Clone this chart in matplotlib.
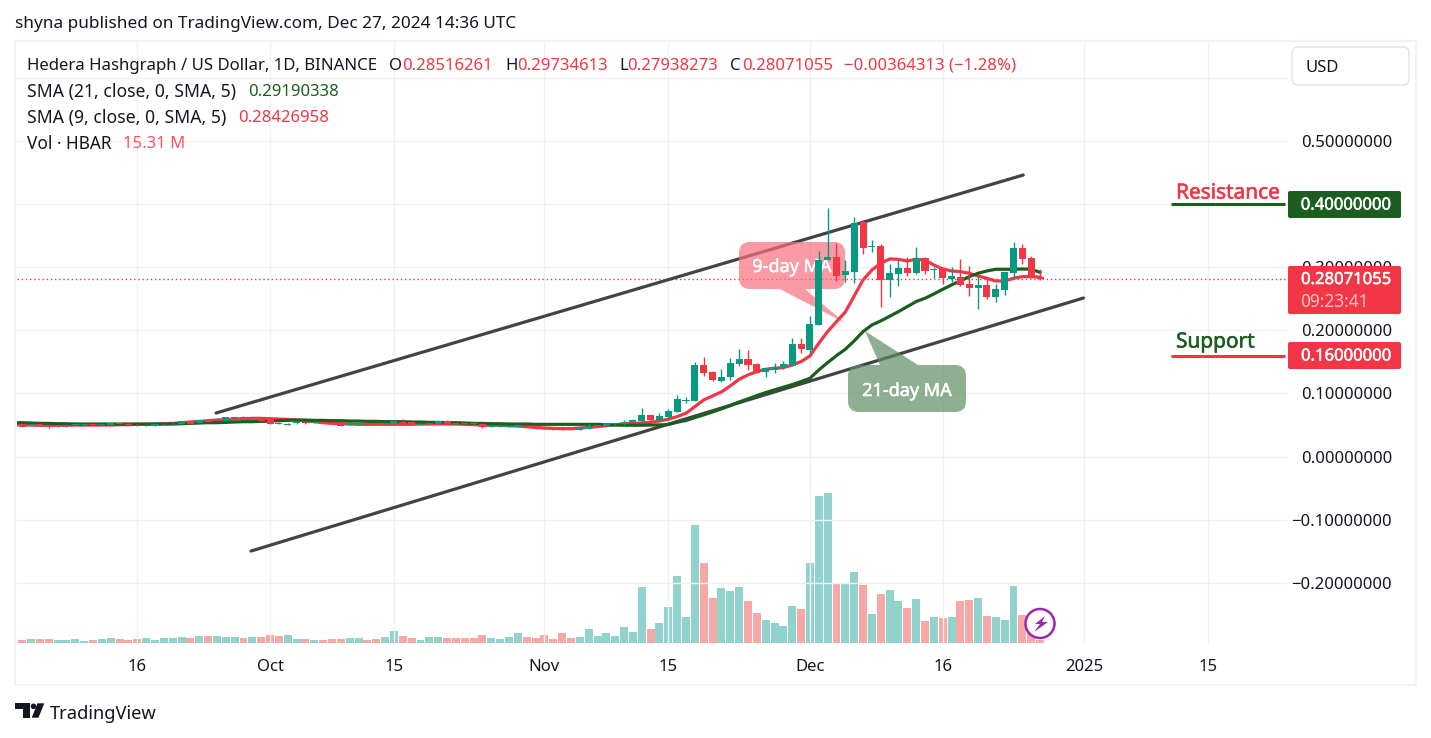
import matplotlib
matplotlib.use("Agg")
import matplotlib.pyplot as plt
import matplotlib.patheffects as pe
from matplotlib.patches import Circle, FancyBboxPatch, Polygon
from matplotlib.transforms import Affine2D

plt.rcParams['font.family'] = ['Noto Sans', 'DejaVu Sans']

GREEN = '#089981'
RED = '#F23645'
DARK = '#1B5E20'
INK = '#131722'
GRID = '#F0F1F4'

# days counted from Sep 16 2024, first candle is day -14
first_day = -14
opens = [
    .0473, .0515, .0499, .0510, .0499, .0478, .0478, .0504, .0504, .0515,
    .0504, .0504, .0525, .0520, .0504, .0494, .0488, .0510, .0525, .0520,
    .0557, .0531, .0573, .0573, .0568, .0615, .0620, .0615, .0620, .0605,
    .0536, .0504, .0525, .0547, .0536, .0547, .0525, .0520, .0504, .0504,
    .0525, .0525, .0515, .0520, .0552, .0541, .0504, .0520, .0520, .0557,
    .0531, .0525, .0525, .0515, .0473, .0473, .0473, .0473, .0483, .0483,
    .0473, .0462, .0462, .0451, .0420, .0441, .0483, .0483, .0510, .0510,
    .0552, .0564, .0660, .0580, .0633, .0712, .0887, .0887, .1452, .1341,
    .1198, .1262, .1467, .1547, .1467, .1346, .1372, .1404, .1441, .1784,
    .1689, .2085, .3115, .3162, .2877, .2925, .3712, .3326, .3336, .2798,
    .2893, .2988, .2909, .3146, .2962, .2988, .2814, .2845, .2735, .2671,
    .2719, .2529, .2640, .2909, .3305, .3146, .2852,
]
closes = [
    .0515, .0473, .0515, .0494, .0473, .0499, .0499, .0515, .0515, .0499,
    .0515, .0531, .0515, .0504, .0494, .0504, .0520, .0520, .0536, .0562,
    .0520, .0578, .0552, .0589, .0626, .0620, .0610, .0620, .0568, .0515,
    .0520, .0520, .0547, .0525, .0547, .0531, .0515, .0488, .0520, .0520,
    .0504, .0510, .0531, .0562, .0520, .0510, .0520, .0531, .0557, .0520,
    .0520, .0515, .0510, .0473, .0483, .0483, .0483, .0499, .0473, .0441,
    .0446, .0430, .0420, .0420, .0462, .0483, .0494, .0531, .0525, .0541,
    .0578, .0660, .0580, .0644, .0723, .0913, .0897, .1452, .1330, .1214,
    .1262, .1483, .1547, .1452, .1330, .1404, .1420, .1467, .1784, .1705,
    .2101, .3115, .3162, .2861, .2940, .3696, .3305, .3336, .2798, .2909,
    .2988, .2909, .3146, .2941, .2972, .2830, .2861, .2719, .2671, .2719,
    .2529, .2655, .2925, .3305, .3131, .2845, .2807,
]
highs = [
    .0520, .0520, .0520, .0515, .0504, .0504, .0504, .0520, .0520, .0520,
    .0520, .0536, .0531, .0536, .0510, .0510, .0525, .0525, .0541, .0568,
    .0562, .0584, .0589, .0605, .0631, .0626, .0642, .0626, .0626, .0610,
    .0541, .0531, .0552, .0552, .0552, .0552, .0531, .0525, .0525, .0525,
    .0531, .0531, .0547, .0568, .0589, .0547, .0525, .0536, .0562, .0578,
    .0536, .0531, .0531, .0520, .0488, .0488, .0488, .0504, .0488, .0488,
    .0478, .0468, .0468, .0457, .0468, .0515, .0499, .0536, .0536, .0578,
    .0594, .0765, .0665, .0686, .0749, .0976, .0940, .1494, .1573, .1356,
    .1388, .1562, .1705, .1689, .1483, .1404, .1483, .1515, .1879, .1879,
    .2228, .3257, .3933, .3384, .3115, .3791, .3743, .3431, .3368, .3051,
    .3131, .3162, .3321, .3162, .3004, .3000, .3004, .3131, .3020, .2861,
    .2830, .2735, .2925, .3400, .3368, .3178, .2973,
]
lows = [
    .0468, .0468, .0494, .0488, .0457, .0473, .0473, .0499, .0499, .0494,
    .0499, .0499, .0510, .0494, .0488, .0488, .0483, .0504, .0520, .0515,
    .0515, .0525, .0547, .0568, .0562, .0610, .0599, .0610, .0562, .0510,
    .0515, .0499, .0520, .0520, .0531, .0525, .0510, .0483, .0499, .0499,
    .0499, .0504, .0494, .0515, .0515, .0504, .0499, .0515, .0515, .0515,
    .0515, .0510, .0504, .0451, .0468, .0468, .0468, .0468, .0468, .0436,
    .0441, .0425, .0415, .0415, .0415, .0436, .0478, .0478, .0504, .0504,
    .0541, .0528, .0554, .0554, .0607, .0712, .0844, .0887, .1283, .1203,
    .1187, .1219, .1441, .1372, .1320, .1267, .1330, .1388, .1430, .1642,
    .1642, .2085, .3115, .2782, .2766, .2750, .3210, .3241, .2370, .2529,
    .2703, .2861, .2893, .2893, .2830, .2735, .2766, .2703, .2544, .2339,
    .2497, .2449, .2560, .2814, .3051, .2830, .2794,
]
sma9 = [
    .0504, .0499, .0499, .0494, .0494, .0494, .0494, .0499, .0499, .0499,
    .0499, .0499, .0504, .0504, .0510, .0510, .0515, .0520, .0525, .0536,
    .0547, .0557, .0568, .0578, .0583, .0594, .0599, .0605, .0605, .0599,
    .0594, .0589, .0578, .0568, .0552, .0536, .0525, .0520, .0515, .0510,
    .0510, .0510, .0510, .0510, .0510, .0510, .0515, .0515, .0515, .0515,
    .0515, .0510, .0504, .0499, .0494, .0494, .0488, .0483, .0473, .0462,
    .0451, .0446, .0441, .0441, .0451, .0462, .0473, .0488, .0504, .0517,
    .0522, .0533, .0543, .0564, .0591, .0633, .0686, .0791, .0897, .0960,
    .1024, .1119, .1224, .1293, .1346, .1383, .1399, .1409, .1452, .1504,
    .1594, .1795, .1980, .2138, .2291, .2544, .2798, .2956, .3062, .3131,
    .3125, .3099, .3125, .3115, .3035, .2972, .2941, .2930, .2904, .2861,
    .2824, .2782, .2782, .2824, .2851, .2851, .2843,
]
sma21 = [
    .0536, .0536, .0531, .0525, .0525, .0520, .0520, .0515, .0515, .0515,
    .0515, .0515, .0515, .0515, .0515, .0515, .0515, .0515, .0515, .0520,
    .0525, .0531, .0536, .0536, .0541, .0547, .0552, .0552, .0557, .0562,
    .0568, .0573, .0578, .0578, .0573, .0573, .0568, .0568, .0562, .0562,
    .0557, .0557, .0552, .0552, .0552, .0547, .0547, .0541, .0541, .0536,
    .0536, .0531, .0525, .0525, .0520, .0520, .0515, .0515, .0515, .0510,
    .0510, .0510, .0510, .0510, .0510, .0510, .0510, .0504, .0499, .0496,
    .0496, .0496, .0499, .0501, .0507, .0543, .0570, .0617, .0660, .0707,
    .0755, .0807, .0865, .0913, .0966, .1013, .1056, .1098, .1140, .1188,
    .1240, .1372, .1488, .1599, .1700, .1832, .1980, .2085, .2148, .2222,
    .2296, .2376, .2455, .2508, .2576, .2650, .2719, .2782, .2851, .2904,
    .2941, .2967, .2967, .2967, .2972, .2967, .2919,
]
# volume in millions of HBAR
volume = [
    26, 15, 20, 20, 20, 15, 15, 20, 10, 15,
    20, 26, 20, 15, 20, 26, 15, 26, 26, 31,
    26, 36, 36, 36, 31, 31, 26, 31, 31, 41,
    36, 41, 20, 20, 15, 15, 20, 20, 26, 26,
    15, 20, 31, 61, 36, 26, 15, 31, 31, 26,
    26, 26, 26, 41, 26, 20, 31, 51, 31, 26,
    41, 20, 51, 26, 31, 71, 36, 51, 36, 82,
    56, 286, 71, 102, 184, 342, 133, 602, 408, 230,
    281, 265, 286, 214, 153, 117, 102, 87, 189, 173,
    408, 750, 765, 306, 306, 362, 296, 148, 250, 270,
    214, 179, 224, 112, 133, 128, 133, 214, 219, 230,
    138, 133, 117, 291, 143, 77, 15,
]

channel_days = [[8.9, 100.1], [12.85, 106.9]]
channel_prices = [[.0689, .4461], [-.1498, .2512]]

tick_days = [0, 15, 29, 46, 60, 76, 91, 107, 121]
tick_labels = ['16', 'Oct', '15', 'Nov', '15', 'Dec', '16', '2025', '15']
price_ticks = [-.2, -.1, 0, .1, .2, .3, .4, .5, .6]
resistance = 0.40
support = 0.16
last_close = 0.28071055

fig = plt.figure(figsize=(14.31, 7.38), dpi=100, facecolor='white')
# screen pixels, y down, for the parts of the page that are not data
px = Affine2D().scale(1, -1).translate(0, 738)
semi = [pe.withStroke(linewidth=0.35, foreground='white')]

rect = [17 / 1431, 93 / 738, 1270 / 1431, 603 / 738]
ax_vol = fig.add_axes(rect, zorder=1)
ax = fig.add_axes(rect, zorder=2)
ax.patch.set_visible(False)

days = [first_day + i for i in range(len(opens))]
up = [c >= o for o, c in zip(opens, closes)]

vol_colors = ['#26A69A' if u else '#EF5350' for u in up]
ax_vol.bar(days, volume, width=0.9, color=vol_colors, alpha=0.5, linewidth=0)
ax_vol.set_xlim(-13.59, 129.9)
ax_vol.set_ylim(-10.2, 3065)
ax_vol.axis('off')

ax.set_xlim(-13.59, 129.9)
ax.set_ylim(-0.2987, 0.6569)
ax.set_xticks(tick_days, tick_labels)
ax.set_yticks(price_ticks)
ax.set_yticklabels([f'{v:.8f}'.replace('-', '\u2212') if v < .55 else '' for v in price_ticks])
ax.yaxis.tick_right()
ax.tick_params(axis='y', length=0, pad=75.6, labelsize=12, labelcolor=INK)
ax.tick_params(axis='x', length=0, pad=10, labelsize=12, labelcolor=INK)
for lab in ax.get_yticklabels():
    lab.set_ha('right')
for s in ax.spines.values():
    s.set_visible(False)
ax.grid(True, color=GRID, linewidth=1, zorder=0)
ax.set_axisbelow(True)

ax.axhline(last_close, color=RED, linewidth=1, linestyle=(0, (1, 2)), zorder=1)
for cx, cy in zip(channel_days, channel_prices):
    ax.plot(cx, cy, color='#434343', linewidth=2.3, solid_capstyle='round', zorder=2)

# callouts sit over the channel lines but under the candles
ax.add_patch(FancyBboxPatch((739, 242), 106, 47, boxstyle='round,pad=0,rounding_size=11',
                            transform=px, facecolor='#F7707E', alpha=0.7, linewidth=0, zorder=3))
ax.add_patch(Polygon([(780, 289), (845, 323), (805, 289)], closed=True, transform=px,
                     facecolor='#F7707E', alpha=0.7, linewidth=0, zorder=3))
ax.add_patch(FancyBboxPatch((848, 365), 118, 47, boxstyle='round,pad=0,rounding_size=11',
                            transform=px, facecolor='#5F8D62', alpha=0.7, linewidth=0, zorder=3))
ax.add_patch(Polygon([(865, 331), (880, 365), (918, 365)], closed=True, transform=px,
                     facecolor='#5F8D62', alpha=0.7, linewidth=0, zorder=3))
ax.text(792, 267, '9-day MA', transform=px, color='white', fontsize=13,
        ha='center', va='center', zorder=4, path_effects=semi)
ax.text(907, 391, '21-day MA', transform=px, color='white', fontsize=13,
        ha='center', va='center', zorder=4, path_effects=semi)

ax.plot(days, sma9, color=RED, linewidth=2.3, zorder=5)
ax.plot(days, sma21, color=DARK, linewidth=2.3, zorder=5)

colors = [GREEN if u else RED for u in up]
ax.vlines(days, lows, highs, colors=colors, linewidth=1, zorder=6)
ax.bar(days, [max(abs(c - o), .001) for o, c in zip(opens, closes)],
       bottom=[min(o, c) for o, c in zip(opens, closes)],
       width=0.8, color=colors, linewidth=0, zorder=6)

# resistance and support levels
ax.hlines([resistance], 116.8, 129.7, color=DARK, linewidth=2.2, zorder=7)
ax.hlines([support], 116.8, 129.7, color=RED, linewidth=2.2, zorder=7)
ax.text(1176, 193, 'Resistance', transform=px, color=RED, fontsize=15, va='center', zorder=8,
        path_effects=[pe.withStroke(linewidth=0.4, foreground=RED)])
ax.text(1176, 342, 'Support', transform=px, color=DARK, fontsize=15, va='center', zorder=8,
        path_effects=[pe.withStroke(linewidth=0.4, foreground=DARK)])


def price_box(y0, y1, color, label):
    ax.add_patch(FancyBboxPatch((1288, y0), 113, y1 - y0, boxstyle='round,pad=0,rounding_size=2',
                                transform=px, facecolor=color, linewidth=0, clip_on=False, zorder=9))
    ax.text(1392, (y0 + y1) / 2 + 1 if y1 - y0 < 30 else y0 + 14, label, transform=px, color='white',
            fontsize=12, ha='right', va='center', clip_on=False, zorder=10, path_effects=semi)


price_box(191, 218, DARK, f'{resistance:.8f}')
price_box(266, 314, RED, f'{last_close:.8f}')
price_box(342, 369, RED, f'{support:.8f}')
ax.text(1369, 302, '09:23:41', transform=px, color='#FBC3C8', fontsize=12.4, ha='right', va='center',
        clip_on=False, zorder=10)

# header rows
ax.text(15, 24, 'shyna published on TradingView.com, Dec 27, 2024 14:36 UTC', transform=px,
        color=INK, fontsize=12.35, va='center', clip_on=False)
header = [
    (27, 66, 'Hedera Hashgraph / US Dollar, 1D, BINANCE', INK, 12.1),
    (389, 66, 'O', INK, 12), (402, 66, '0.28516261', RED, 12),
    (505, 66, 'H', INK, 12), (517, 66, '0.29734613', RED, 12),
    (619, 66, 'L', INK, 12), (627, 66, '0.27938273', RED, 12),
    (730, 66, 'C', INK, 12), (742, 66, '0.28071055', RED, 12),
    (844, 66, '\u22120.00364313 (\u22121.28%)', RED, 12.05),
    (27, 92, 'SMA (21, close, 0, SMA, 5)', INK, 12.65), (248, 92, '0.29190338', DARK, 12),
    (27, 118, 'SMA (9, close, 0, SMA, 5)', INK, 12.7), (238, 118, '0.28426958', RED, 12),
    (27, 144, 'Vol \u00b7 HBAR', INK, 12.4), (123, 144, '15.31 M', '#F7525F', 12),
]
for hx, hy, label, col, size in header:
    ax.text(hx, hy, label, transform=px, color=col, fontsize=size, va='center', clip_on=False, zorder=8)

# USD button
ax.add_patch(FancyBboxPatch((1292, 47), 117, 38, boxstyle='round,pad=0,rounding_size=6', transform=px,
                            facecolor='white', edgecolor='#E0E3EB', linewidth=1, clip_on=False, zorder=8))
ax.text(1322, 68, 'USD', transform=px, color=INK, fontsize=12, ha='center', va='center',
        clip_on=False, zorder=9)

# outer frame
fig.add_artist(FancyBboxPatch((15, 41), 1401, 644, boxstyle='square,pad=0', transform=px,
                              facecolor='none', edgecolor='#F0F3FA', linewidth=1.5))

# lightning badge
ax.add_patch(Circle((1040, 623.5), 14.5, transform=px, facecolor='white', edgecolor='#9C27B0',
                    linewidth=1.8, clip_on=False, zorder=9))
ax.add_patch(Polygon([(1045, 616), (1035, 624), (1040, 624), (1034, 632), (1048, 622), (1042, 622)],
                     closed=True, transform=px, facecolor='#9C27B0', linewidth=0, clip_on=False, zorder=10))

# TradingView logo
fig.add_artist(Polygon([(15, 703.3), (30, 703.3), (30, 717.7), (23, 717.7), (23, 709.3), (15, 709.3)],
                       closed=True, transform=px, facecolor=INK, linewidth=0))
fig.add_artist(Circle((33.5, 706.3), 2.8, transform=px, facecolor=INK, linewidth=0))
fig.add_artist(Polygon([(37.5, 703.3), (44.3, 703.3), (38.5, 717.7), (31.7, 717.7)],
                       closed=True, transform=px, facecolor=INK, linewidth=0))
fig.text(50 / 1431, 1 - 714 / 738, 'TradingView', color=INK, fontsize=13.2, va='center')

fig.savefig('out.png', dpi=100)
